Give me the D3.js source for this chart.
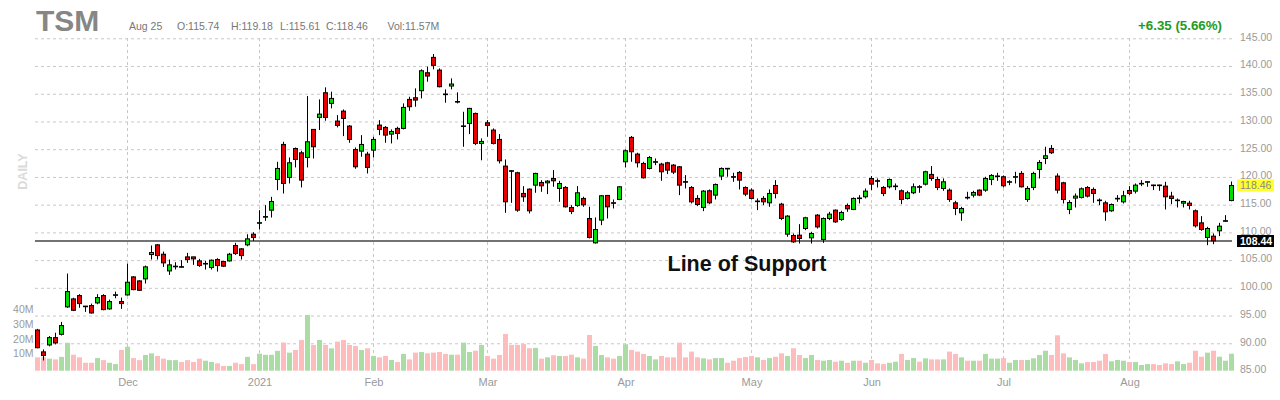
<!DOCTYPE html>
<html>
<head>
<meta charset="utf-8">
<script src="https://cdn.jsdelivr.net/npm/d3@7"></script>
<style>
  body { margin: 0; background: #fff; }
  svg { display: block; font-family: "Liberation Sans", Arial, sans-serif; }
</style>
</head>
<body>
<svg id="chart" width="1280" height="400"></svg>
<script>
// ---- Data: TSM daily candles, Nov 9 2020 – Aug 25 2021 ----
const symbol = "TSM";
const firstDay = "2020-11-09";
const lastDay = "2021-08-25";
const holidays = ["2020-11-26", "2020-12-25", "2021-01-01", "2021-01-18",
                  "2021-02-15", "2021-04-02", "2021-05-31", "2021-07-05"];

const opens = [
  92.4, 88.45, 89.7, 91.02, 91.62, 96.56, 98.0, 98.6, 96.7, 96.8,
  97.28, 98.6, 96.2, 98.7, 97.52, 98.72, 101.97, 101.25, 101.61, 106.0,
  107.75, 106.06, 103.05, 103.85, 103.82, 105.58, 105.58, 104.86, 104.36, 103.66,
  105.1, 104.74, 104.86, 107.63, 107.03, 107.75, 109.67, 111.7, 112.75, 114.0,
  119.54, 125.86, 119.9, 125.13, 124.35, 123.51, 128.57, 130.73, 135.18, 133.26,
  130.07, 131.87, 129.17, 124.95, 124.65, 124.11, 124.83, 129.35, 128.93, 127.72,
  128.75, 128.75, 133.98, 134.28, 135.55, 138.79, 141.56, 139.27, 134.95, 136.39,
  133.6, 129.15, 129.65, 131.45, 126.04, 129.77, 128.45, 126.76, 121.95, 121.12,
  120.75, 117.02, 117.8, 118.52, 119.0, 118.94, 119.72, 117.92, 118.1, 114.49,
  114.85, 116.12, 112.5, 108.11, 112.21, 116.66, 115.35, 115.93, 122.73, 127.13,
  124.12, 122.43, 121.53, 122.7, 122.31, 122.55, 122.13, 121.83, 119.15, 118.1,
  116.12, 114.49, 117.5, 116.72, 120.15, 121.55, 120.05, 120.81, 118.1, 117.62,
  115.6, 116.12, 115.33, 118.46, 115.09, 109.68, 109.44, 109.5, 110.7, 109.02,
  113.11, 108.71, 112.51, 114.01, 112.33, 114.85, 114.13, 116.2, 116.42, 119.72,
  119.32, 118.1, 118.22, 118.32, 117.5, 116.12, 117.14, 118.24, 118.7, 120.45,
  119.54, 117.92, 117.62, 115.33, 113.53, 116.32, 116.72, 117.62, 117.62, 119.54,
  120.13, 120.03, 119.1, 120.01, 120.63, 115.93, 118.1, 121.35, 123.33, 125.14,
  120.15, 118.94, 114.13, 116.18, 116.3, 118.1, 117.74, 115.83, 115.33, 113.89,
  116.1, 115.51, 117.56, 117.44, 118.8, 119.1, 118.54, 118.54, 118.34, 116.54,
  115.79, 115.27, 115.27, 113.89, 111.72, 109.08, 109.32, 110.28, 112.07, 115.74
];
const highs = [
  92.6, 88.9, 91.3, 91.9, 93.85, 102.57, 98.2, 98.85, 96.75, 97.16,
  98.85, 98.85, 97.88, 99.32, 98.24, 104.38, 102.1, 101.37, 104.02, 107.63,
  107.87, 106.54, 105.1, 104.62, 104.98, 106.3, 105.6, 105.22, 104.86, 105.1,
  105.34, 104.86, 106.3, 108.11, 107.15, 109.67, 110.03, 114.0, 114.91, 116.41,
  122.73, 126.34, 123.51, 125.3, 124.71, 134.58, 128.6, 133.98, 136.15, 135.37,
  131.15, 132.17, 129.35, 125.31, 127.54, 124.53, 127.24, 130.25, 129.17, 128.57,
  129.05, 133.26, 134.46, 135.97, 139.4, 139.88, 142.16, 139.58, 135.79, 137.77,
  135.25, 131.75, 132.45, 131.6, 126.94, 130.25, 128.75, 127.72, 123.15, 121.23,
  120.93, 118.34, 117.92, 120.75, 119.42, 119.42, 121.23, 119.3, 118.34, 114.91,
  118.34, 116.42, 114.61, 112.69, 116.72, 116.72, 115.93, 118.34, 124.96, 127.37,
  124.36, 122.73, 123.75, 123.33, 122.55, 122.73, 122.31, 121.95, 120.33, 118.34,
  116.72, 117.62, 117.74, 118.82, 121.71, 121.6, 120.75, 121.05, 118.3, 117.92,
  116.12, 116.54, 117.74, 119.42, 115.33, 113.11, 109.8, 111.48, 112.81, 110.1,
  113.29, 112.69, 113.71, 114.13, 113.89, 115.21, 116.3, 116.72, 117.92, 120.15,
  119.72, 118.34, 119.72, 118.82, 117.74, 117.5, 118.82, 118.52, 121.11, 121.95,
  120.03, 119.72, 117.92, 115.69, 114.61, 117.32, 117.5, 117.74, 120.03, 120.51,
  120.75, 120.27, 119.42, 120.93, 121.05, 118.34, 120.93, 123.03, 125.44, 125.74,
  120.63, 119.12, 115.81, 117.02, 118.1, 118.34, 118.1, 116.12, 115.69, 115.21,
  116.72, 117.5, 118.34, 118.82, 119.42, 119.2, 118.6, 118.6, 119.12, 117.32,
  116.12, 115.7, 115.69, 114.13, 112.93, 111.0, 109.8, 111.72, 113.11, 119.18
];
const lows = [
  89.1, 86.9, 89.45, 89.8, 91.4, 96.4, 95.8, 96.4, 95.66, 95.35,
  97.04, 95.95, 96.07, 98.12, 96.2, 98.6, 99.56, 99.44, 100.77, 105.1,
  105.1, 103.78, 102.33, 103.3, 103.66, 104.5, 104.14, 103.78, 103.3, 103.3,
  102.93, 103.78, 104.74, 105.94, 105.1, 107.5, 108.47, 110.51, 112.08, 112.68,
  117.61, 117.01, 118.82, 121.71, 118.1, 121.71, 123.33, 128.45, 130.13, 132.36,
  128.93, 127.36, 126.16, 121.47, 123.63, 120.62, 123.51, 127.54, 126.16, 126.04,
  126.76, 128.57, 131.93, 132.66, 134.16, 137.17, 139.4, 136.15, 133.38, 135.79,
  133.26, 125.44, 127.72, 125.74, 123.0, 127.24, 125.86, 122.43, 113.53, 115.33,
  113.71, 115.51, 113.41, 117.14, 117.32, 116.9, 118.22, 115.51, 114.49, 113.29,
  114.61, 114.61, 108.9, 107.99, 111.3, 112.51, 114.31, 115.81, 121.71, 122.73,
  121.71, 119.72, 121.35, 122.13, 119.3, 120.51, 120.51, 116.72, 117.92, 115.21,
  114.73, 113.83, 115.09, 115.93, 119.42, 120.03, 119.12, 117.74, 116.54, 115.93,
  114.01, 114.91, 114.61, 116.12, 112.21, 109.2, 108.11, 107.99, 110.4, 107.99,
  110.7, 108.11, 112.21, 111.72, 112.09, 113.71, 114.01, 115.21, 116.12, 117.62,
  118.1, 116.54, 117.92, 117.62, 115.09, 115.93, 116.9, 117.14, 118.46, 119.3,
  117.62, 117.5, 115.51, 113.11, 112.09, 115.93, 116.3, 116.54, 117.32, 118.52,
  119.3, 118.1, 118.52, 118.82, 118.1, 115.51, 117.62, 119.72, 122.31, 124.12,
  117.02, 115.21, 113.29, 114.49, 116.12, 116.3, 115.33, 114.91, 112.09, 113.71,
  115.51, 115.21, 116.72, 117.02, 118.34, 118.22, 117.62, 117.5, 114.13, 115.09,
  114.49, 114.49, 114.13, 110.88, 110.28, 107.69, 107.87, 109.32, 111.9, 115.61
];
const closes = [
  89.2, 87.8, 91.02, 90.06, 93.19, 99.32, 95.95, 97.16, 96.6, 95.47,
  98.24, 96.07, 97.52, 98.75, 97.16, 101.01, 99.68, 99.56, 103.78, 106.36,
  105.82, 104.5, 104.14, 103.9, 103.78, 105.1, 105.22, 104.02, 104.4, 104.98,
  104.02, 103.9, 106.06, 106.18, 105.82, 108.83, 109.07, 111.75, 112.85, 115.57,
  121.53, 118.82, 122.55, 123.15, 119.42, 126.34, 125.44, 131.33, 130.73, 134.16,
  129.29, 130.55, 126.76, 121.83, 125.86, 121.71, 126.76, 128.57, 127.54, 128.2,
  127.84, 132.54, 132.66, 133.86, 139.15, 138.19, 140.12, 136.27, 134.85, 136.75,
  133.55, 129.2, 132.36, 126.04, 126.4, 129.29, 126.04, 122.91, 115.51, 121.08,
  114.01, 116.42, 113.89, 120.63, 118.4, 119.24, 119.3, 118.82, 114.61, 113.77,
  117.14, 114.97, 109.08, 110.52, 116.6, 114.61, 115.3, 118.22, 124.72, 124.54,
  122.55, 119.84, 123.51, 122.75, 120.93, 121.23, 120.87, 118.52, 119.1, 115.51,
  115.03, 117.44, 115.33, 118.64, 121.53, 121.5, 120.0, 119.42, 116.9, 116.12,
  115.65, 115.51, 117.02, 117.02, 112.51, 112.93, 108.29, 108.9, 112.63, 109.8,
  110.99, 112.51, 113.29, 111.9, 113.59, 114.25, 116.12, 116.15, 117.44, 118.7,
  119.28, 117.02, 119.54, 118.36, 115.93, 117.14, 118.22, 118.2, 120.93, 119.72,
  118.1, 119.12, 115.93, 114.31, 114.31, 116.28, 117.2, 116.72, 119.72, 120.27,
  120.17, 118.4, 119.14, 120.05, 118.22, 117.92, 120.63, 122.61, 123.81, 124.36,
  117.62, 115.93, 115.39, 116.54, 117.86, 116.54, 117.02, 115.79, 113.71, 115.03,
  116.14, 116.6, 117.02, 118.52, 118.84, 119.14, 118.5, 118.5, 116.42, 116.12,
  115.83, 115.57, 114.85, 111.18, 110.52, 110.7, 108.47, 111.12, 112.11, 118.46
];
// daily volume, millions of shares
const volumesM = [
  9.1, 9.1, 8.2, 7.7, 9.4, 19.0, 10.9, 9.1, 5.4, 5.4,
  8.6, 7.2, 5.4, 4.5, 14.1, 16.3, 8.6, 7.2, 10.7, 11.8,
  10.0, 8.2, 7.2, 7.2, 5.9, 7.2, 5.9, 8.2, 6.8, 5.9,
  5.0, 3.2, 3.2, 5.4, 4.5, 9.4, 4.5, 11.6, 10.8, 10.8,
  13.5, 19.2, 12.3, 14.1, 20.9, 37.9, 17.5, 20.9, 17.5, 15.2,
  19.8, 20.9, 17.5, 16.8, 14.1, 15.2, 10.0, 9.1, 10.0, 7.3,
  5.9, 11.4, 7.7, 12.3, 12.7, 11.8, 12.3, 12.7, 11.4, 10.9,
  10.9, 19.1, 12.7, 13.6, 17.5, 10.0, 8.2, 10.7, 25.0, 17.5,
  17.5, 18.2, 15.3, 15.5, 8.2, 9.1, 10.5, 10.0, 10.0, 10.9,
  9.1, 8.2, 24.3, 16.8, 10.7, 9.1, 8.2, 10.0, 18.0, 14.1,
  13.0, 11.4, 10.0, 7.7, 10.0, 9.1, 9.1, 19.1, 9.1, 13.0,
  9.1, 8.4, 7.7, 8.6, 8.6, 5.4, 6.8, 8.6, 9.3, 10.0,
  9.1, 7.3, 8.6, 9.5, 11.8, 10.0, 15.3, 10.7, 8.6, 10.7,
  7.3, 6.8, 7.3, 6.1, 6.8, 5.4, 6.8, 6.8, 5.4, 7.3,
  5.0, 4.5, 5.4, 6.1, 11.4, 7.3, 8.6, 6.1, 8.4, 7.7,
  7.7, 7.7, 13.0, 11.4, 9.1, 6.8, 6.8, 6.8, 11.4, 8.2,
  8.2, 8.6, 5.4, 7.3, 7.3, 7.3, 8.4, 10.7, 13.6, 10.7,
  24.1, 11.8, 9.1, 7.3, 5.0, 5.9, 5.9, 6.8, 11.4, 6.4,
  7.3, 6.8, 5.9, 5.9, 3.9, 4.5, 4.5, 3.9, 5.0, 4.5,
  6.4, 4.5, 5.4, 13.6, 9.5, 12.3, 13.6, 9.5, 6.8, 11.57
];

const priceTicks = [85, 90, 95, 100, 105, 110, 115, 120, 125, 130, 135, 140, 145];
const volumeTicks = [10, 20, 30, 40];
const supportLevel = 108.44;
const supportCaption = "Line of Support";
const quoteLabels = ["Aug 25", "O:115.74", "H:119.18", "L:115.61", "C:118.46", "Vol:11.57M"];
const changeLabel = "+6.35 (5.66%)";

// ---- Trading calendar ----
const parseDay = d3.utcParse("%Y-%m-%d");
const fmtDay = d3.utcFormat("%Y-%m-%d");
const days = d3.utcDays(parseDay(firstDay), d3.utcDay.offset(parseDay(lastDay), 1))
  .filter(d => d.getUTCDay() % 6 !== 0 && !holidays.includes(fmtDay(d)));

const candles = days.map((d, i) => ({
  i, date: d, o: opens[i], h: highs[i], l: lows[i], c: closes[i], v: volumesM[i]
}));

// ---- Layout ----
const svg = d3.select("#chart");
const plotLeft = 35, plotRight = 1232;
const x = d3.scalePoint().domain(d3.range(candles.length)).range([37.5, 1231.5]);
const y = d3.scaleLinear().domain([85, 145]).range([371, 38.3]);
const yv = d3.scaleLinear().domain([0, 40]).range([370.7, 311.9]);

const RED = "#e80000", GREEN = "#00dc00";
const VOL_RED = "#ffbcbc", VOL_GREEN = "#abdca4";
const GRID = "#c8c8c8", AXIS_TEXT = "#9a9a9a";
const FONT = '"Liberation Sans", Arial, sans-serif';

// month boundaries
const monthIdx = candles.filter((d, i) => i > 0 && d.date.getUTCMonth() !== candles[i - 1].date.getUTCMonth()).map(d => d.i);
const monthLabel = i => {
  const d = candles[i].date;
  return d.getUTCMonth() === 0 ? d3.utcFormat("%Y")(d) : d3.utcFormat("%b")(d);
};

// vertical month grid
svg.append("g").selectAll("line").data(monthIdx).join("line")
  .attr("x1", i => x(i)).attr("x2", i => x(i))
  .attr("y1", 38).attr("y2", 373)
  .attr("stroke", GRID).attr("stroke-dasharray", "3,3").attr("stroke-width", 1);

// price axis with horizontal grid (no grid line on the bottom tick)
const priceAxis = svg.append("g")
  .attr("transform", `translate(${plotRight},0)`)
  .call(d3.axisRight(y).tickValues(priceTicks).tickFormat(d3.format(".2f"))
    .tickSize(-(plotRight - plotLeft)));
priceAxis.select(".domain").remove();
priceAxis.selectAll(".tick line")
  .attr("stroke", GRID).attr("stroke-dasharray", "3,3")
  .attr("visibility", d => d === priceTicks[0] ? "hidden" : "visible");
priceAxis.selectAll(".tick text")
  .attr("x", 8).attr("y", -1.5).attr("text-anchor", "start")
  .attr("fill", AXIS_TEXT).attr("font-size", 10.5).attr("font-family", FONT);

// month axis labels
const monthAxis = svg.append("g")
  .attr("transform", "translate(0,378)")
  .call(d3.axisBottom(x).tickValues(monthIdx).tickFormat(monthLabel).tickSize(0).tickPadding(0));
monthAxis.select(".domain").remove();
monthAxis.selectAll(".tick text")
  .attr("dy", "0.71em").attr("fill", AXIS_TEXT).attr("font-size", 11).attr("font-family", FONT);

// volume axis labels
const volAxis = svg.append("g")
  .attr("transform", "translate(33.5,0)")
  .call(d3.axisLeft(yv).tickValues(volumeTicks).tickFormat(d => d + "M").tickSize(0).tickPadding(0));
volAxis.select(".domain").remove();
volAxis.selectAll(".tick text")
  .attr("y", -2.5).attr("fill", AXIS_TEXT).attr("font-size", 10.5).attr("font-family", FONT);

// volume bars
svg.append("g").selectAll("rect").data(candles).join("rect")
  .attr("x", d => x(d.i) - 2.5)
  .attr("width", 5)
  .attr("y", d => yv(d.v))
  .attr("height", d => yv(0) - yv(d.v))
  .attr("fill", d => d.c >= d.o ? VOL_GREEN : VOL_RED);

// support line
svg.append("line")
  .attr("x1", plotLeft).attr("x2", plotRight)
  .attr("y1", y(supportLevel)).attr("y2", y(supportLevel))
  .attr("stroke", "#444").attr("stroke-width", 1.4);

// candles
const cg = svg.append("g").selectAll("g").data(candles).join("g");
cg.append("line")
  .attr("x1", d => x(d.i)).attr("x2", d => x(d.i))
  .attr("y1", d => y(d.h)).attr("y2", d => y(d.l))
  .attr("stroke", "#000").attr("stroke-width", 1);
cg.append("rect")
  .attr("x", d => x(d.i) - 2).attr("width", 4)
  .attr("y", d => y(Math.max(d.o, d.c)))
  .attr("height", d => Math.max(Math.abs(y(d.o) - y(d.c)), 0.6))
  .attr("fill", d => d.c >= d.o ? GREEN : RED)
  .attr("stroke", "#000").attr("stroke-width", 1);

// value tags on the price scale
function priceTag(value, fill, textFill, bold) {
  const g = svg.append("g").attr("transform", `translate(1237,${y(value)})`);
  g.append("rect").attr("x", 0).attr("y", -6).attr("width", 37).attr("height", 12).attr("fill", fill);
  g.append("text").attr("x", 3).attr("y", 0).attr("dy", "0.35em")
    .attr("text-anchor", "start").attr("font-size", 10.5)
    .attr("font-weight", bold ? "bold" : "normal").attr("fill", textFill)
    .text(d3.format(".2f")(value));
}
priceTag(closes[closes.length - 1], "#ffff2e", "#888", false);
priceTag(supportLevel, "#000", "#fff", true);

// caption for the support line
svg.append("text")
  .attr("x", 667.5).attr("y", 263.5).attr("dy", "0.35em")
  .attr("font-size", 21.5).attr("font-weight", "bold").attr("fill", "#111")
  .text(supportCaption);

// header
svg.append("text").attr("x", 36).attr("y", 30.5)
  .attr("font-size", 30).attr("font-weight", "bold").attr("fill", "#868686")
  .text(symbol);
const quoteX = [129, 177, 231, 280, 326, 387.5];
svg.append("g").selectAll("text").data(quoteLabels).join("text")
  .attr("x", (d, i) => quoteX[i]).attr("y", 29.5)
  .attr("font-size", 10.5).attr("fill", "#777")
  .text(d => d);
svg.append("text").attr("x", 1222).attr("y", 30)
  .attr("text-anchor", "end").attr("font-size", 13.3).attr("font-weight", "bold")
  .attr("fill", "#1e9b1e").text(changeLabel);

// period tag
svg.append("text")
  .attr("transform", "translate(27,171.5) rotate(-90)")
  .attr("text-anchor", "middle").attr("font-size", 12.5).attr("font-weight", "bold")
  .attr("fill", "#dadada").text("DAILY");
</script>
</body>
</html>
